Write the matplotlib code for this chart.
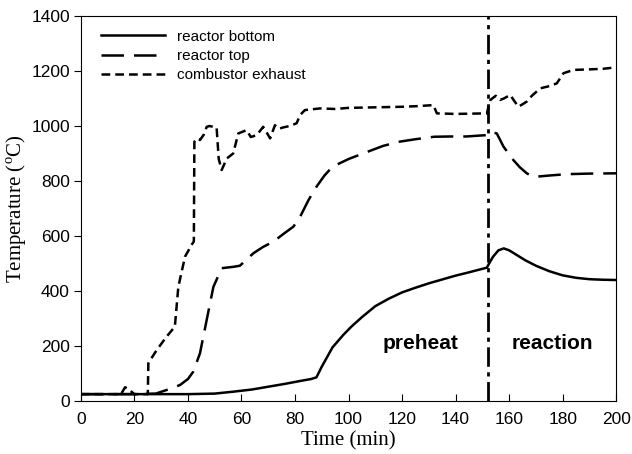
import matplotlib
matplotlib.use("Agg")
import matplotlib.pyplot as plt

# reactor bottom (solid)
t_bottom = [0, 20, 40, 50, 57, 64, 70, 76, 82, 86, 88, 90, 94, 98, 101, 105, 110, 115, 120, 125, 130,
            135, 140, 145, 151.7, 152.5, 154, 156, 158, 160, 163, 166, 170, 175, 180, 185, 190, 195, 200]
T_bottom = [25, 25, 25, 27, 34, 42, 52, 62, 73, 80, 86, 125, 195, 240, 270, 305, 345, 372, 395, 412, 428,
            442, 456, 468, 485, 500, 525, 548, 555, 548, 530, 512, 492, 472, 457, 448, 443, 441, 440]

# reactor top (long dash)
t_top = [0, 20, 28, 32, 37, 40, 42, 44.5, 47, 49.5, 52.6, 57, 59.4, 62, 64.4, 68, 72, 76, 79.4, 81.9,
         85, 88, 91, 94, 100, 107, 113, 119, 125, 132, 138, 144, 151.7, 153, 155.4, 157.9, 161.6, 164,
         166.6, 168.5, 170.4, 175, 181.6, 190, 200]
T_top = [25, 25, 27, 40, 58, 80, 107, 174, 295, 415, 483, 488, 492, 515, 537, 560, 580, 610, 634, 670,
         730, 779, 820, 852, 880, 906, 928, 943, 952, 961, 962, 962, 967, 978, 973, 925, 876, 850,
         828, 818, 816, 820, 825, 827, 828]

# combustor exhaust (short dash)
t_exh = [0, 15, 16.5, 17.5, 20, 25, 25.2, 26, 28.3, 32, 35.1, 36.4, 38.9, 41.5, 42.2, 42.4, 43.5, 44.5,
         46, 47, 48, 50.7, 51.5, 52.6, 54.5, 56.9, 58.8, 61.9, 63.5, 65.7, 68.1, 69.5, 70.7, 72.5, 74,
         75.6, 78, 80.6, 81.9, 83.7, 89.3, 95, 100, 110, 120, 125, 131.7, 133, 140, 151.7, 152.5, 153,
         155, 156.6, 158, 160.4, 162, 163.5, 166.6, 168.5, 171.6, 175, 177.8, 180.3, 184, 190, 195, 199.6, 200]
T_exh = [25, 25, 50, 45, 25, 25, 137, 150, 185, 234, 270, 415, 525, 570, 580, 943, 955, 949, 970, 997,
         1000, 995, 880, 840, 882, 900, 973, 985, 960, 967, 997, 975, 955, 1003, 990, 995, 1000, 1010,
         1040, 1058, 1064, 1062, 1066, 1068, 1070, 1072, 1076, 1046, 1044, 1046, 1080, 1095, 1110, 1095,
         1100, 1113, 1090, 1070, 1089, 1110, 1137, 1145, 1155, 1192, 1204, 1206, 1208, 1213, 1213]

t_switch = 152
x_ticks = list(range(0, 201, 20))
y_ticks = list(range(0, 1401, 200))

fig = plt.figure(figsize=(6.32, 4.54), dpi=100)
ax = fig.add_axes([0.128, 0.1167, 0.847, 0.848])

ax.plot(t_bottom, T_bottom, color="black", lw=1.8, label="reactor bottom")
ax.plot(t_top, T_top, color="black", lw=1.8, dashes=(9, 4), label="reactor top")
ax.plot(t_exh, T_exh, color="black", lw=1.8, dashes=(3.5, 2), label="combustor exhaust")
ax.axvline(t_switch, color="black", lw=2, dashes=(7, 2, 1.5, 2))

ax.text(127, 210, "preheat", ha="center", va="center", fontsize=15, fontweight="bold",
        family="Liberation Sans")
ax.text(176, 210, "reaction", ha="center", va="center", fontsize=15, fontweight="bold",
        family="Liberation Sans")

ax.set_xlim(0, 200)
ax.set_ylim(0, 1400)
ax.set_xticks(x_ticks)
ax.set_yticks(y_ticks)
ax.tick_params(axis="x", direction="in", length=5, labelsize=12.5, pad=8)
ax.tick_params(axis="y", direction="out", length=5, labelsize=12.5, pad=3)
for lab in ax.get_xticklabels() + ax.get_yticklabels():
    lab.set_family("Liberation Sans")
ax.set_xlabel("Time (min)", family="Liberation Serif", fontsize=15, labelpad=3)
ax.set_ylabel(r"Temperature ($^{\mathregular{o}}$C)", family="Liberation Serif", fontsize=15)
ax.yaxis.set_label_coords(-0.097, 0.5)

leg = ax.legend(loc="upper left", frameon=False, prop={"family": "Liberation Sans", "size": 11},
                handlelength=4.2, handletextpad=0.8, borderaxespad=0.5, labelspacing=0.35,
                bbox_to_anchor=(0.012, 1.0))

fig.savefig("out.png", dpi=100)
